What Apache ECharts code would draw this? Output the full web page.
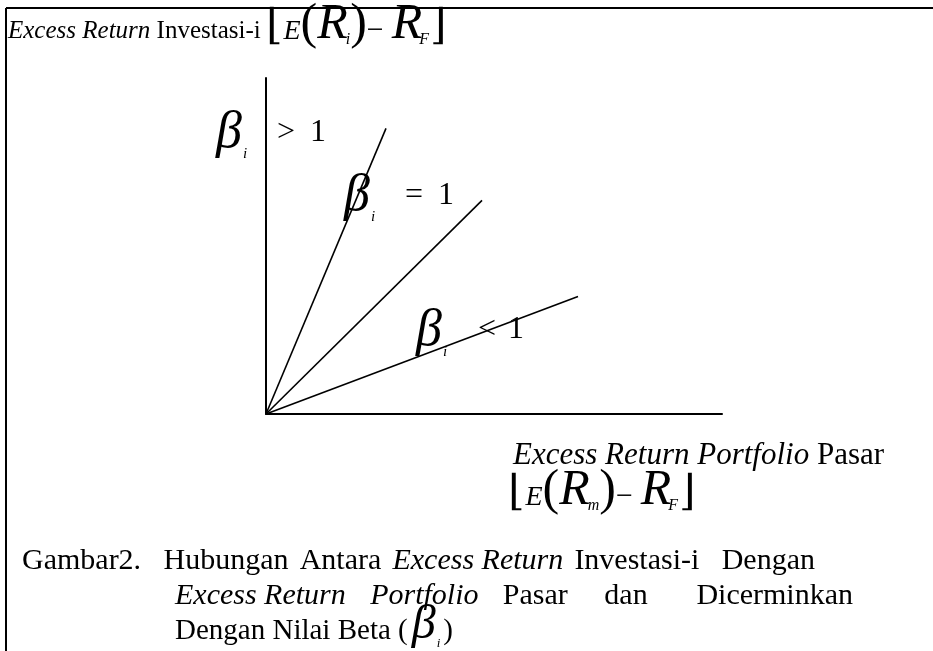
<!DOCTYPE html>
<html>
<head>
<meta charset="utf-8">
<script src="https://cdn.jsdelivr.net/npm/echarts@6/dist/echarts.min.js"></script>
<style>
  html, body { margin: 0; padding: 0; background: #fff; }
  #chart { width: 933px; height: 651px; }
</style>
</head>
<body>
<div id="chart"></div>
<script>
// Characteristic lines: excess return of investment i against excess return of the market portfolio
const lineNames = ['beta > 1', 'beta = 1', 'beta < 1'];
const marketExcess = [2.5, 4.5, 6.5];    // end point on the market axis
const assetExcess = [5.95, 4.45, 2.45];  // end point on the investment axis
const relSigns = ['>', '=', '<'];
const relValue = '1';

const FONT = '"Liberation Serif", "DejaVu Serif", serif';
const ctx = document.createElement('canvas').getContext('2d');
function fontOf(r) {
  return (r.it ? 'italic ' : '') + 'normal ' + r.s + 'px ' + FONT;
}
function widthOf(r) { ctx.font = fontOf(r); return ctx.measureText(r.t).width; }
function piece(x, base, r) {
  return {
    type: 'text', x: x, y: base + (r.dy || 0) - r.s * 0.32, silent: true,
    style: { text: r.t, font: fontOf(r), fill: '#000', align: 'left', verticalAlign: 'middle' }
  };
}
// lay out a run of differently styled pieces on one baseline
function row(x, base, runs) {
  const out = [];
  runs.forEach(r => {
    x += (r.dx || 0);
    out.push(piece(x, base, r));
    x += widthOf(r);
  });
  return out;
}
// spread words between x0 and x1, gap weights decide how the free space is shared
function justify(x0, x1, base, words, weights) {
  const total = words.reduce((a, w) => a + widthOf(w), 0);
  const wsum = weights.reduce((a, b) => a + b, 0);
  const free = (x1 - x0) - total;
  const out = [];
  let x = x0;
  words.forEach((w, i) => {
    out.push(piece(x, base, w));
    x += widthOf(w) + (i < weights.length ? free * weights[i] / wsum : 0);
  });
  return out;
}
function bracket(x, base, sub) {
  return row(x, base, [
    { t: '⌊', s: 42 },
    { t: 'E', s: 28, it: true, dx: 1 },
    { t: '(', s: 50 },
    { t: 'R', s: 50, it: true },
    { t: sub, s: 16, it: true, dy: 4, dx: -2 },
    { t: ')', s: 50 },
    { t: '−', s: 30 },
    { t: 'R', s: 50, it: true, dx: 8 },
    { t: 'F', s: 16, it: true, dy: 4, dx: -3 },
    { t: '⌋', s: 42, dx: 1 }
  ]);
}

const chart = echarts.init(document.getElementById('chart'));

const graphics = [];
// frame
graphics.push({ type: 'line', silent: true, shape: { x1: 6, y1: 8, x2: 933, y2: 8 }, style: { stroke: '#000', lineWidth: 2 } });
graphics.push({ type: 'line', silent: true, shape: { x1: 6, y1: 8, x2: 6, y2: 651 }, style: { stroke: '#000', lineWidth: 2 } });

// vertical axis title
graphics.push(...row(8, 39, [
  { t: 'Excess Return', s: 25, it: true },
  { t: ' Investasi-i', s: 25 }
]));
graphics.push(...bracket(266, 41, 'i'));

// horizontal axis title
graphics.push(...row(513, 466, [
  { t: 'Excess Return Portfolio', s: 31, it: true },
  { t: ' Pasar', s: 31 }
]));
graphics.push(...bracket(508, 507, 'm'));

// beta labels next to the lines
const betaPos = [[216, 150, 277, 310, 143], [344, 213, 405, 438, 206], [416, 348, 478, 508, 340]];
betaPos.forEach((p, i) => {
  graphics.push(...row(p[0], p[1], [{ t: 'β', s: 52, it: true }, { t: 'i', s: 15, it: true, dy: 9, dx: 1 }]));
  graphics.push(piece(p[2], p[4], { t: relSigns[i], s: 32 }));
  graphics.push(piece(p[3], p[4], { t: relValue, s: 32 }));
});

// caption
graphics.push(...justify(22, 815, 571, [
  { t: 'Gambar2.', s: 30 },
  { t: 'Hubungan', s: 30 },
  { t: 'Antara', s: 30 },
  { t: 'Excess Return', s: 30, it: true },
  { t: 'Investasi-i', s: 30 },
  { t: 'Dengan', s: 30 }
], [2, 1, 1, 1, 2]));
graphics.push(...justify(175, 853, 606, [
  { t: 'Excess Return', s: 30, it: true },
  { t: 'Portfolio', s: 30, it: true },
  { t: 'Pasar', s: 30 },
  { t: 'dan', s: 30 },
  { t: 'Dicerminkan', s: 30 }
], [2, 2, 3, 4]));
graphics.push(...row(175, 641, [
  { t: 'Dengan Nilai Beta (', s: 29 },
  { t: 'β', s: 48, it: true, dx: 4 },
  { t: 'i', s: 13, it: true, dy: 7, dx: 1 },
  { t: ')', s: 29, dx: 3 }
]));

const axisCommon = {
  type: 'value', min: 0,
  axisLine: { show: true, lineStyle: { color: '#000', width: 2 } },
  axisTick: { show: false }, axisLabel: { show: false }, splitLine: { show: false }
};

chart.setOption({
  animation: false,
  backgroundColor: '#fff',
  grid: { left: 266, top: 78, width: 456, height: 336, containLabel: false },
  xAxis: Object.assign({}, axisCommon, { max: 9.5 }),
  yAxis: Object.assign({}, axisCommon, { max: 7 }),
  series: lineNames.map((n, i) => ({
    type: 'line', name: n, silent: true, symbol: 'none',
    data: [[0, 0], [marketExcess[i], assetExcess[i]]],
    lineStyle: { color: '#000', width: 1.6 }
  })),
  graphic: graphics
});
</script>
</body>
</html>
